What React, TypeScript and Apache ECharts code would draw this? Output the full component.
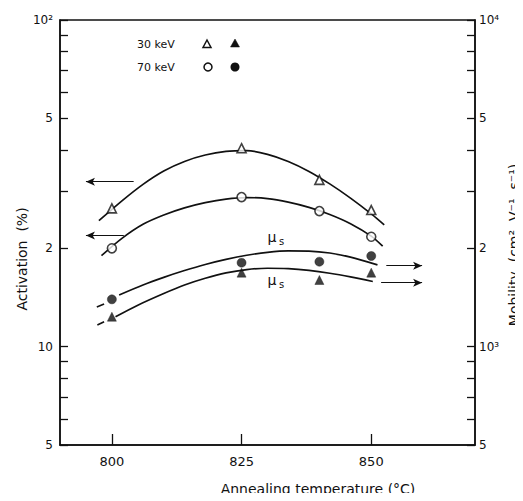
import React, { useEffect, useRef } from 'react';
import * as echarts from 'echarts';

// ---- axis ticks / labels ----
const xTickValues = [800, 825, 850];
const actLabelValues = [5, 10, 20, 50, 100];
const actTickValues = [5, 6, 7, 8, 9, 10, 20, 30, 40, 50, 60, 70, 80, 90, 100];
const mobLabelValues = [500, 1000, 2000, 5000, 10000];
const mobTickValues = [500, 600, 700, 800, 900, 1000, 2000, 3000, 4000, 5000, 6000, 7000, 8000, 9000, 10000];
const actLabelText: Record<number, string> = { 5: '5', 10: '10', 20: '2', 50: '5', 100: '10²' };
const mobLabelText: Record<number, string> = { 500: '5', 1000: '10³', 2000: '2', 5000: '5', 10000: '10⁴' };

// ---- measured points ----
const act30Points = [[800, 26.5], [825, 40.5], [840, 32.4], [850, 26.2]]; // open triangles
const act70Points = [[800, 20.0], [825, 28.7], [840, 26.0], [850, 21.7]]; // open circles
const mob70Points = [[800, 1396], [825, 1807], [840, 1820], [850, 1895]]; // filled circles
const mob30Points = [[800, 1235], [825, 1685], [840, 1600], [850, 1685]]; // filled triangles

// ---- fitted curves ----
const act30Curve = [
  [797.5, 24.3], [802, 28.0], [806, 31.4], [810, 34.5], [814, 36.9], [818, 38.6], [822, 39.6],
  [826, 39.8], [830, 38.8], [834, 36.9], [838, 34.4], [842, 31.5], [846, 28.5], [850, 25.5], [852.5, 23.6],
];
const act70Curve = [
  [798, 19.0], [802, 21.5], [806, 23.7], [810, 25.3], [814, 26.6], [818, 27.6], [822, 28.3],
  [826, 28.6], [830, 28.4], [834, 27.7], [838, 26.7], [842, 25.4], [846, 23.8], [850, 21.8], [852.2, 20.3],
];
const mob70Curve = [
  [801.4, 1440], [806, 1545], [810, 1630], [814, 1710], [818, 1785], [822, 1850], [826, 1905],
  [830, 1945], [834, 1965], [838, 1962], [842, 1935], [846, 1880], [851.2, 1780],
];
const mob30Curve = [
  [800.7, 1235], [805, 1340], [810, 1455], [814, 1545], [818, 1620], [822, 1682], [826, 1722],
  [830, 1738], [834, 1733], [838, 1712], [842, 1678], [846, 1635], [850.3, 1583],
];
const mob70Dash = [[797.1, 1323], [798.5, 1351]];
const mob30Dash = [[797.2, 1165], [798.5, 1192]];

// ---- arrows (from, to) ----
const actArrows = [
  [[804.2, 32.0], [795, 32.0]],
  [[802.3, 21.9], [795, 21.9]],
];
const mobArrows = [
  [[852.9, 1770], [859.8, 1770]],
  [[851.9, 1570], [859.8, 1570]],
];

const FONT = "'DejaVu Sans', sans-serif";
const INK = '#111';

export default function App() {
  const ref = useRef<HTMLDivElement>(null);
  useEffect(() => {
    if (!ref.current) return;
    const chart = echarts.init(ref.current, null, { renderer: 'svg' });
    const curveStyle = { color: INK, width: 1.7 };
    const lineSeries = (data: number[][], yAxisIndex: number, extra: any = {}) => ({
      type: 'line', data, yAxisIndex, smooth: 0.3, symbol: 'none', lineStyle: curveStyle,
      silent: true, z: 2, ...extra,
    });
    const arrowMark = (arrows: number[][][]) => ({
      silent: true,
      symbol: ['none', 'arrow'],
      symbolSize: [6, 9],
      label: { show: false },
      lineStyle: { color: INK, width: 1.2, type: 'solid' },
      data: arrows.map(([a, b]) => [{ coord: a }, { coord: b }]),
    });
    const scatter = (data: number[][], yAxisIndex: number, symbol: string, filled: boolean, size: number) => ({
      type: 'scatter', data, yAxisIndex, symbol, symbolSize: size, z: 5,
      itemStyle: filled
        ? { color: INK, borderColor: INK, borderWidth: 0.5 }
        : { color: '#fff', borderColor: INK, borderWidth: 1.6 },
    });
    const textStyle = (text: string, size: number, extra: any = {}) => ({
      text, fill: INK, fontSize: size, fontFamily: FONT,
      textAlign: 'center', textVerticalAlign: 'middle', align: 'center', verticalAlign: 'middle', ...extra,
    });

    chart.setOption({
      animation: false,
      backgroundColor: '#fff',
      grid: { left: 60, right: 48, top: 20, bottom: 56, show: true, borderColor: INK, borderWidth: 1.5, backgroundColor: 'transparent' },
      xAxis: {
        type: 'value', min: 790, max: 870,
        axisLine: { show: true, lineStyle: { color: INK, width: 1.5 } },
        axisTick: { inside: true, length: 11, customValues: xTickValues, lineStyle: { color: INK, width: 1.3 } },
        axisLabel: { customValues: xTickValues, color: INK, fontSize: 13, fontFamily: FONT, margin: 10 },
        splitLine: { show: false },
      },
      yAxis: [
        {
          type: 'log', min: 5, max: 100, position: 'left',
          axisLine: { show: true, lineStyle: { color: INK, width: 1.5 } },
          axisTick: { inside: true, length: 8, customValues: actTickValues, lineStyle: { color: INK, width: 1.3 } },
          axisLabel: {
            customValues: actLabelValues, color: INK, fontSize: 12, fontFamily: FONT, margin: 7,
            formatter: (v: number) => actLabelText[Math.round(v)] ?? '',
          },
          splitLine: { show: false }, minorTick: { show: false },
        },
        {
          type: 'log', min: 500, max: 10000, position: 'right',
          axisLine: { show: true, lineStyle: { color: INK, width: 1.5 } },
          axisTick: { inside: true, length: 8, customValues: mobTickValues, lineStyle: { color: INK, width: 1.3 } },
          axisLabel: {
            customValues: mobLabelValues, color: INK, fontSize: 12, fontFamily: FONT, margin: 4,
            formatter: (v: number) => mobLabelText[Math.round(v)] ?? '',
          },
          splitLine: { show: false }, minorTick: { show: false },
        },
      ],
      series: [
        lineSeries(act30Curve, 0, { markLine: arrowMark(actArrows) }),
        lineSeries(act70Curve, 0),
        lineSeries(mob70Curve, 1, { markLine: arrowMark(mobArrows) }),
        lineSeries(mob30Curve, 1),
        lineSeries(mob70Dash, 1, { smooth: false }),
        lineSeries(mob30Dash, 1, { smooth: false }),
        scatter(act30Points, 0, 'triangle', false, 9),
        scatter(act70Points, 0, 'circle', false, 9),
        scatter(mob70Points, 1, 'circle', true, 9),
        scatter(mob30Points, 1, 'triangle', true, 9),
      ],
      graphic: [
        // axis titles
        { type: 'text', x: 318, y: 489, style: textStyle('Annealing temperature (°C)', 14) },
        { type: 'text', x: 22, y: 259, rotation: Math.PI / 2, style: textStyle('Activation  (%)', 14) },
        { type: 'text', x: 514, y: 245, rotation: Math.PI / 2, style: textStyle('Mobility  (cm²  V⁻¹  s⁻¹)', 14) },
        // legend
        { type: 'text', x: 137, y: 44, style: textStyle('30 keV', 11, { textAlign: 'left', align: 'left' }) },
        { type: 'text', x: 137, y: 67, style: textStyle('70 keV', 11, { textAlign: 'left', align: 'left' }) },
        { type: 'polygon', shape: { points: [[207, 40], [211, 47.5], [203, 47.5]] }, style: { fill: '#fff', stroke: INK, lineWidth: 1.5 } },
        { type: 'polygon', shape: { points: [[235, 39], [239.5, 47], [230.5, 47]] }, style: { fill: INK, stroke: INK, lineWidth: 0.5 } },
        { type: 'circle', shape: { cx: 208, cy: 67, r: 4 }, style: { fill: '#fff', stroke: INK, lineWidth: 1.5 } },
        { type: 'circle', shape: { cx: 235, cy: 67, r: 4.5 }, style: { fill: INK } },
        // mu_s labels
        { type: 'text', x: 272, y: 237, style: textStyle('μ', 14) },
        { type: 'text', x: 281.5, y: 241, style: textStyle('s', 10) },
        { type: 'text', x: 272, y: 280, style: textStyle('μ', 14) },
        { type: 'text', x: 281.5, y: 284, style: textStyle('s', 10) },
      ],
    });
    return () => chart.dispose();
  }, []);
  return <div ref={ref} style={{ width: 523, height: 501, margin: -8 }} />;
}
